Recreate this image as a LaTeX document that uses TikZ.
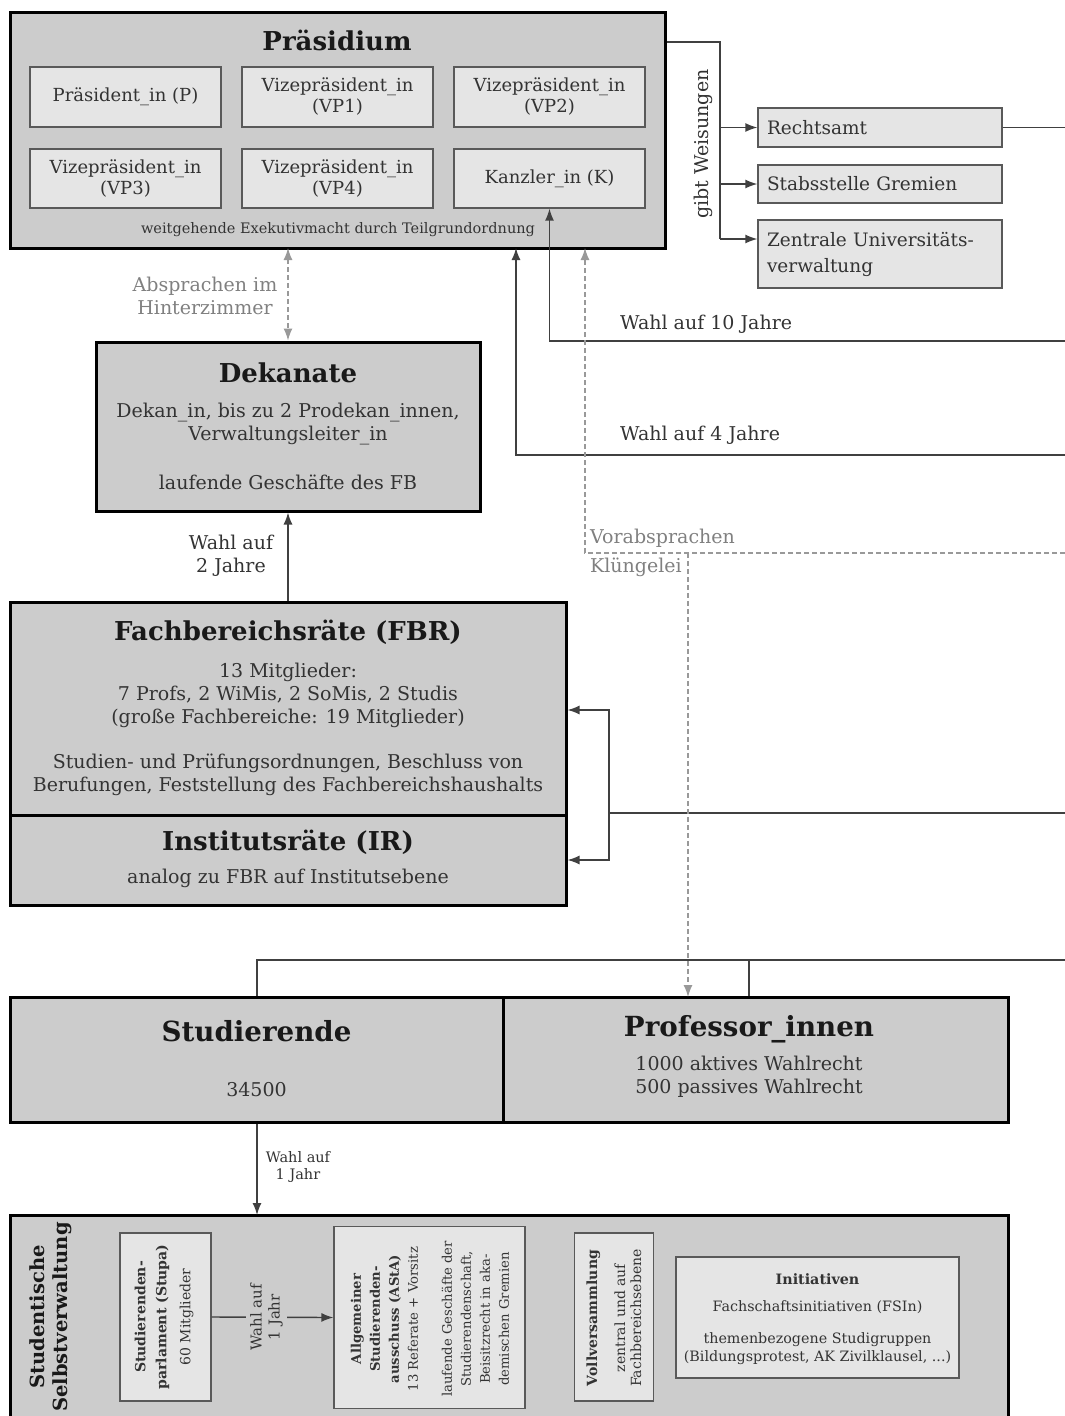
\documentclass[tikz,border=0pt]{standalone}
\usepackage{fontspec}
\setmainfont{DejaVu Serif}
\usetikzlibrary{arrows.meta,calc}
\definecolor{outerfill}{gray}{0.80}
\definecolor{innerfill}{gray}{0.90}
\definecolor{txt}{gray}{0.2}
\definecolor{conncol}{gray}{0.25}
\definecolor{dashcol}{gray}{0.6}
\tikzset{
  outerbox/.style={draw=black, line width=3pt, fill=outerfill, inner sep=0pt},
  innerbox/.style={draw=gray!70!black, line width=1.3pt, fill=innerfill, inner sep=0pt, align=center, text=txt},
  title/.style={font=\bfseries\fontsize{26}{30}\selectfont, text=black!90, inner sep=0pt},
  body/.style={font=\fontsize{19}{23}\selectfont, text=txt, align=center, inner sep=0pt},
  conn/.style={draw=conncol, line width=1.4pt},
  tip/.style={-{Latex[length=12pt,width=9pt]}},
  dconn/.style={draw=dashcol, line width=1.3pt, dash pattern=on 5pt off 3pt},
  graytext/.style={font=\fontsize{19}{23}\selectfont, text=gray, inner sep=0pt, align=center},
}
\begin{document}
\begin{tikzpicture}[x=1pt,y=-1pt]
\useasboundingbox (0,0) rectangle (1065,1416);
\clip (0,0) rectangle (1065,1416);
% ---------- Praesidium
\node[outerbox, minimum width=655pt, minimum height=236pt] (prae) at (337.5,130) {};
\node[title] (praet) at (337,40) {Präsidium};
\node[innerbox, minimum width=191pt, minimum height=60pt, font=\fontsize{18}{21}\selectfont] (pp) at (125.5,97) {Präsident\_in (P)};
\node[innerbox, minimum width=191pt, minimum height=60pt, font=\fontsize{18}{21}\selectfont] (vp1) at (337.5,97) {Vizepräsident\_in\\(VP1)};
\node[innerbox, minimum width=191pt, minimum height=60pt, font=\fontsize{18}{21}\selectfont] (vp2) at (549.5,97) {Vizepräsident\_in\\(VP2)};
\node[innerbox, minimum width=191pt, minimum height=59pt, font=\fontsize{18}{21}\selectfont] (vp3) at (125.5,178.5) {Vizepräsident\_in\\(VP3)};
\node[innerbox, minimum width=191pt, minimum height=59pt, font=\fontsize{18}{21}\selectfont] (vp4) at (337.5,178.5) {Vizepräsident\_in\\(VP4)};
\node[innerbox, minimum width=191pt, minimum height=59pt, font=\fontsize{18}{21}\selectfont] (kanz) at (549.5,178.5) {Kanzler\_in (K)};
\node[body, font=\fontsize{14.5}{16}\selectfont] (praef) at (338,230) {weitgehende Exekutivmacht durch Teilgrundordnung};
% ---------- Weisungen
\node[innerbox, minimum width=244pt, minimum height=39pt, text width=226pt, align=left, font=\fontsize{18.5}{23}\selectfont] (rechts) at (880,127.5) {Rechtsamt};
\node[innerbox, minimum width=244pt, minimum height=38pt, text width=226pt, align=left, font=\fontsize{18.5}{23}\selectfont] (stab) at (880,184) {Stabsstelle Gremien};
\node[innerbox, minimum width=244pt, minimum height=68pt, text width=226pt, align=left, font=\fontsize{18.5}{26}\selectfont] (zuv) at (880,254) {Zentrale Universitäts-\\verwaltung};
\node[body, rotate=90] (gibt) at (703,144) {gibt Weisungen};
\coordinate (wa) at (720,42);
\coordinate (wb) at (720,127.5);
\coordinate (wc) at (720,184);
\coordinate (wd) at (720,239);
\draw[conn] (prae.east |- wa) -- (wa) -- (wd);
\draw[conn,tip] (wb) -- (rechts.west);
\draw[conn,tip] (wc) -- (stab.west);
\draw[conn,tip] (wd) -- (zuv.west |- wd);
\coordinate (rr) at (1065,127.5);
\draw[conn] (rechts.east) -- (rr);
% ---------- Wahl 10 / 4 Jahre
\coordinate (w10) at (1065,341);
\draw[conn,tip] (w10) -| (kanz.south);
\node[body, anchor=west] (l10) at (620,324) {Wahl auf 10 Jahre};
\coordinate (w4) at (1065,455);
\coordinate (p4) at (516,248);
\draw[conn,tip] (w4) -| (p4);
\node[body, anchor=west] (l4) at (620,435) {Wahl auf 4 Jahre};
% ---------- Dekanate
\node[outerbox, minimum width=384pt, minimum height=169pt] (dek) at (288,426.5) {};
\node[title] (dekt) at (288,373) {Dekanate};
\node[body] (dekb) at (288,424) {Dekan\_in, bis zu 2 Prodekan\_innen,\\Verwaltungsleiter\_in};
\node[body] (dekc) at (288,482) {laufende Geschäfte des FB};
\coordinate (pa) at (288,248);
\draw[dconn,{Latex[length=12pt,width=9pt]}-{Latex[length=12pt,width=9pt]}] (pa) -- (dek.north);
\node[graytext] (absp) at (205,296) {Absprachen im\\Hinterzimmer};
% ---------- Vorabsprachen
\coordinate (va) at (1065,553);
\coordinate (vb) at (585,553);
\coordinate (vc) at (585,248);
\coordinate (vd) at (688,553);
\draw[dconn,tip] (va) -- (vb) -- (vc);
\node[graytext, anchor=west] (vor) at (590,538) {Vorabsprachen};
\node[graytext, anchor=west] (klue) at (590,567) {Klüngelei};
% ---------- FBR / IR
\node[outerbox, minimum width=556pt, minimum height=213pt] (fbr) at (288,708.5) {};
\node[outerbox, minimum width=556pt, minimum height=90pt] (ir) at (288,860) {};
\node[title] (fbrt) at (288,632) {Fachbereichsräte (FBR)};
\node[body] (fbrb) at (288,695) {13 Mitglieder:\\7 Profs, 2 WiMis, 2 SoMis, 2 Studis\\(große Fachbereiche: 19 Mitglieder)};
\node[body] (fbrc) at (288,775) {Studien- und Prüfungsordnungen, Beschluss von\\Berufungen, Feststellung des Fachbereichshaushalts};
\node[title] (irt) at (288,842) {Institutsräte (IR)};
\node[body] (irb) at (288,878) {analog zu FBR auf Institutsebene};
\draw[conn,tip] (fbr.north) -- (dek.south);
\node[body] (l2) at (231,556) {Wahl auf\\2 Jahre};
\coordinate (ba) at (609,710);
\coordinate (bb) at (609,860);
\coordinate (bc) at (609,813);
\coordinate (bd) at (1065,813);
\draw[conn,{Latex[length=12pt,width=9pt]}-{Latex[length=12pt,width=9pt]}] (fbr.east |- ba) -- (ba) -- (bb) -- (ir.east |- bb);
\draw[conn] (bc) -- (bd);
% ---------- Studierende / Professor_innen
\node[outerbox, minimum width=493pt, minimum height=125pt] (stud) at (256.5,1059.5) {};
\node[outerbox, minimum width=505pt, minimum height=125pt] (prof) at (755.5,1059.5) {};
\node[title, font=\bfseries\fontsize{27.7}{30}\selectfont] (studt) at (256.5,1031) {Studierende};
\node[body] (studb) at (256.5,1090) {34500};
\node[title, font=\bfseries\fontsize{27.7}{30}\selectfont] (proft) at (749,1029) {Professor\_innen};
\node[body] (profb) at (749,1077) {1000 aktives Wahlrecht\\500 passives Wahlrecht};
\coordinate (sa) at (257,960);
\coordinate (sb) at (749,960);
\coordinate (sc) at (1065,960);
\draw[conn] (stud.north -| sa) -- (sa) -- (sc);
\draw[conn] (sb) -- (prof.north -| sb);
\coordinate (pd) at (688,997);
\draw[dconn,tip] (vd) -- (pd);
% ---------- Studentische Selbstverwaltung
\draw[outerbox] (10,1215) rectangle (1008,1440);
\coordinate (sv) at (257,1215);
\draw[conn,tip] (stud.south -| sv) -- (sv);
\node[body, font=\fontsize{14.5}{17}\selectfont] (l1) at (298,1167) {Wahl auf\\1 Jahr};
\node[title, rotate=90, align=center, font=\bfseries\fontsize{19.5}{23}\selectfont] (ssv) at (51,1317) {Studentische\\Selbstverwaltung};
\node[innerbox, minimum width=91pt, minimum height=168pt] (stupa) at (165.5,1317) {};
\node[body, rotate=90, font=\fontsize{14}{21}\selectfont] at (164,1317) {\textbf{Studierenden-}\\\textbf{parlament (Stupa)}\\[3pt]60 Mitglieder};
\node[innerbox, minimum width=191pt, minimum height=182pt] (asta) at (429.5,1317.5) {};
\node[body, rotate=90, font=\fontsize{13.2}{19}\selectfont] at (430,1319) {\textbf{Allgemeiner}\\\textbf{Studierenden-}\\\textbf{ausschuss (AStA)}\\13 Referate + Vorsitz\\[15pt]laufende Geschäfte der\\Studierendenschaft,\\Beisitzrecht in aka-\\demischen Gremien};
\draw[conn,tip] (stupa.east) -- node[body, pos=0.45, rotate=90, fill=outerfill, inner sep=4pt, font=\fontsize{15}{18}\selectfont] {Wahl auf\\1 Jahr} (asta.west);
\node[innerbox, minimum width=79pt, minimum height=168pt] (vv) at (614,1317) {};
\node[body, rotate=90, font=\fontsize{14}{16}\selectfont] at (614,1318) {\textbf{Vollversammlung}\\[12pt]zentral und auf\\Fachbereichsebene};
\node[innerbox, minimum width=283pt, minimum height=121pt] (ini) at (817.5,1317.5) {};
\node[body, font=\fontsize{14.3}{18}\selectfont] at (817.5,1319) {\textbf{Initiativen}\\[9pt]Fachschaftsinitiativen (FSIn)\\[14pt]themenbezogene Studigruppen\\(Bildungsprotest, AK Zivilklausel, ...)};
\end{tikzpicture}
\end{document}
